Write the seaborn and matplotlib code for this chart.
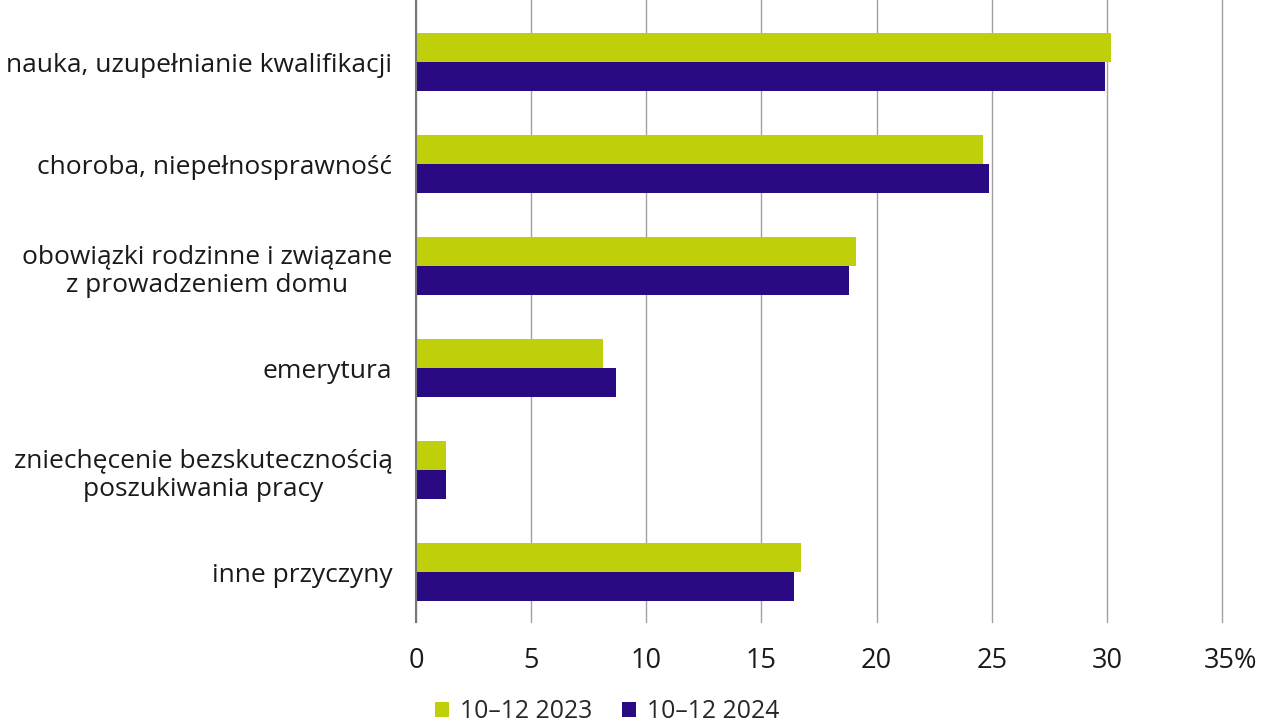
import matplotlib
matplotlib.use("Agg")
import matplotlib.pyplot as plt
import matplotlib.transforms as mtransforms
import seaborn as sns
import pandas as pd

categories = [
    "nauka, uzupełnianie kwalifikacji",
    "choroba, niepełnosprawność",
    "obowiązki rodzinne i związane\nz prowadzeniem domu",
    "emerytura",
    "zniechęcenie bezskutecznością\nposzukiwania pracy",
    "inne przyczyny",
]
series_names = ["10–12 2023", "10–12 2024"]
values_2023 = [30.2, 24.6, 19.1, 8.1, 1.3, 16.7]
values_2024 = [29.9, 24.9, 18.8, 8.7, 1.3, 16.4]
x_ticks = [0, 5, 10, 15, 20, 25, 30, 35]
x_ticklabels = ["0", "5", "10", "15", "20", "25", "30", "35%"]
colors = ["#BFD00A", "#2A0A82"]

df = pd.DataFrame({
    "cat": categories * 2,
    "val": values_2023 + values_2024,
    "series": [series_names[0]] * 6 + [series_names[1]] * 6,
})

sns.set_theme(style="white")
plt.rcParams["font.family"] = ["Open Sans", "DejaVu Sans"]

fig = plt.figure(figsize=(12.62, 7.24), dpi=100)
ax = fig.add_axes([416 / 1262, 1 - 622 / 724, (1222 - 416) / 1262, 622 / 724])

sns.barplot(data=df, y="cat", x="val", hue="series", orient="h",
            palette=colors, width=0.56, saturation=1, ax=ax, legend=True,
            linewidth=0)

ax.set_xlim(0, 35)
ax.set_ylim(5 + 50 / 102, -62 / 102)
ax.set_xticks(x_ticks)
ax.set_xticklabels(x_ticklabels, fontsize=19.5)
ax.set_xlabel("")
ax.set_ylabel("")
ax.tick_params(axis="x", length=0, pad=18, colors="#1a1a1a")
ax.tick_params(axis="y", length=0, pad=17, colors="#1a1a1a")
for lbl in ax.get_yticklabels():
    lbl.set_fontsize(19)
    lbl.set_multialignment("center")

# shift the last label so the number (not the % sign) sits under its gridline
last = ax.get_xticklabels()[-1]
last.set_transform(last.get_transform() +
                   mtransforms.ScaledTranslation(9 / 100, 0, fig.dpi_scale_trans))

ax.grid(axis="x", color="#a0a0a0", linewidth=1)
for gl in ax.get_xgridlines():
    gl.set_clip_on(False)
ax.set_axisbelow(True)
for s in ["top", "right", "bottom"]:
    ax.spines[s].set_visible(False)
ax.spines["left"].set_color("#777777")
ax.spines["left"].set_linewidth(1.5)

handles, labels = ax.get_legend_handles_labels()
ax.get_legend().remove()
fig.legend(handles, labels, loc="center", bbox_to_anchor=(607 / 1262, 1 - 712 / 724),
           ncol=2, frameon=False, fontsize=17.8, handlelength=0.56, handleheight=0.56,
           handletextpad=0.45, columnspacing=1.2, borderaxespad=0, borderpad=0)

fig.savefig("out.png", dpi=100)
